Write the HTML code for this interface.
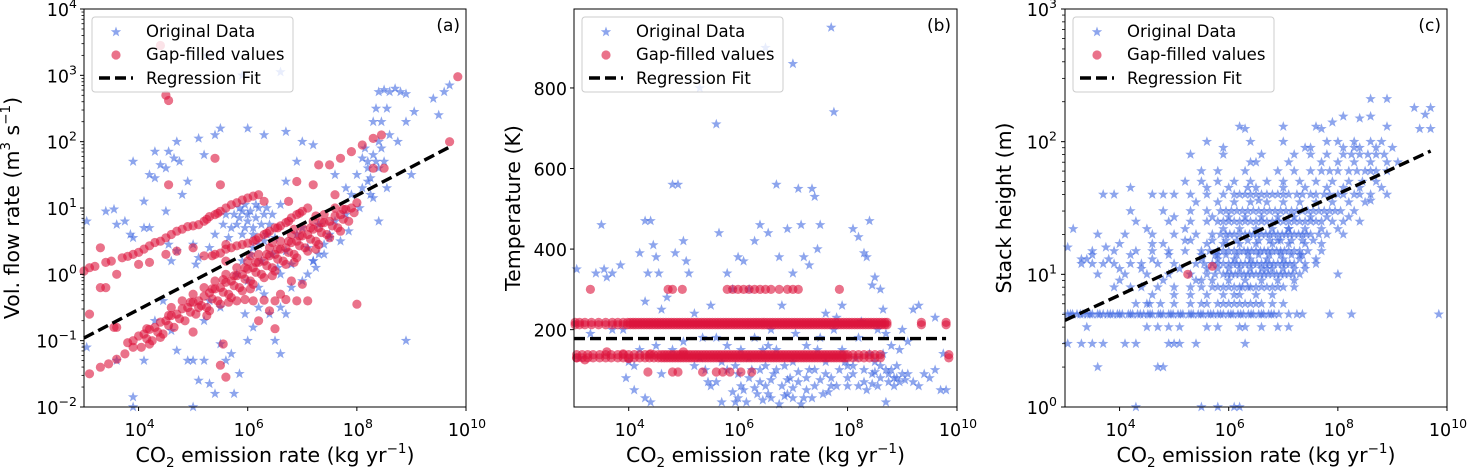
<!DOCTYPE html>
<html><head><meta charset="utf-8"><style>
html,body{margin:0;padding:0;background:#fff}
svg{display:block;font-family:"DejaVu Sans","Liberation Sans",sans-serif}
</style></head><body>
<svg id="fig" width="1468" height="467" viewBox="0 0 1468 467">
<defs><path id="star" d="M0,-5.5 L1.3,-1.8 L5.2,-1.7 L2.1,0.7 L3.2,4.4 L0,2.2 L-3.2,4.4 L-2.1,0.7 L-5.2,-1.7 L-1.3,-1.8 Z"/></defs>
</svg>
<script>
// ---------- DATA (x as log10 emission) ----------
const aStars=[[3.05,0.8],[3.4,0.95],[3.55,0.98],[3.6,0.75],[3.75,0.8],[3.85,0.6],[3.9,0.55],[4.1,0.7],[4.2,0.7],[4.3,1.85],[4.4,1.65],[4.5,1.6],[4.55,1.85],[4.65,1.75],[4.3,1.45],[4.5,0.95],[4.55,0.45],[4.6,0.2],[4.7,0.35],[4.9,1.4],[5.2,1.8],[5.1,2.05],[4.75,1.7],[4.8,1.2],[5.0,0.45],[5.05,0.15],[5.1,0.25],[5.3,0.4],[5.4,0.6],[5.55,0.75],[5.4,2.1],[5.6,0.9],[5.75,0.9],[5.85,0.85],[5.9,0.95],[5.95,0.7],[6.0,0.8],[6.1,0.6],[6.2,0.45],[6.05,0.3],[5.9,0.2],[6.3,0.9],[6.4,0.75],[6.5,0.55],[6.6,1.05],[6.7,0.35],[6.8,0.15],[6.9,0.6],[7.0,0.7],[7.1,0.4],[7.2,0.2],[7.3,0.3],[7.4,0.45],[7.5,0.6],[7.6,0.8],[7.7,0.5],[7.8,0.9],[7.9,1.2],[8.0,1.5],[8.1,1.75],[8.2,1.6],[8.15,1.9],[8.3,2.3],[8.35,2.5],[8.4,2.75],[8.5,2.78],[8.6,2.75],[8.7,2.8],[8.8,2.75],[8.9,2.72],[8.45,2.3],[8.55,2.5],[8.6,2.1],[8.75,2.0],[8.9,2.3],[9.05,2.45],[9.4,2.65],[9.6,2.75],[9.7,2.85],[9.5,2.4],[8.5,1.7],[8.25,1.45],[8.4,0.8],[8.9,-1.0],[9.0,1.5],[3.05,-1.1],[3.6,-1.3],[3.9,-1.85],[4.1,-1.3],[4.3,-0.7],[4.45,-0.4],[4.6,-0.85],[4.7,-1.15],[4.9,-1.3],[5.0,-1.3],[5.1,-1.6],[5.2,-1.3],[5.3,-1.65],[5.4,-1.8],[5.5,-1.05],[5.6,-1.3],[5.7,-1.2],[5.75,-1.8],[5.85,-1.5],[6.0,-1.0],[6.1,-0.8],[6.2,-0.5],[6.3,-0.3],[6.4,-0.6],[6.5,-1.0],[6.6,-1.2],[6.7,-0.6],[5.3,-0.4],[5.5,-0.5],[5.2,-0.7],[6.0,-0.1],[5.8,0.0],[6.6,0.0],[7.0,-0.1],[7.2,0.2],[7.5,0.55],[3.9,-2.0],[5.0,-2.0],[5.25,3.3],[5.9,3.0],[6.6,3.05],[4.7,2.0],[6.0,2.2],[6.3,2.1],[6.7,2.15],[7.0,2.0],[7.2,1.95],[7.6,1.5],[7.8,1.3],[6.9,1.7],[6.7,1.4],[5.5,2.2],[4.2,1.5],[4.1,1.1],[3.9,1.7],[6.2,1.0],[6.35,0.6],[6.15,0.85],[6.45,0.3],[6.55,0.1],[6.25,0.2],[5.65,0.55],[7.3,0.75],[7.85,0.65],[8.05,1.0],[8.3,1.15],[6.05,0.95],[5.95,1.05],[6.1,0.7],[6.25,0.75],[5.8,0.75],[6.35,1.0],[8.2,1.4],[8.35,1.7],[8.1,1.3],[8.45,1.9],
[5.85,1.0],[6.0,0.9],[6.15,1.05],[5.9,0.6],[6.1,0.4],[6.3,0.5],[5.7,0.7],[6.45,0.9],[8.2,1.7],[8.3,1.8],[8.4,1.6],[8.25,1.2],[8.4,2.0],[8.55,1.3],[7.1,0.0],[7.25,0.1],[7.4,0.3],[6.8,-0.2],[6.6,-0.5],[6.2,-0.2],[5.95,-0.6]];
const aGaps=[[3.0,0.05],[3.1,0.1],[3.2,0.12],[3.5,0.2],[3.7,0.25],[3.9,0.3],[4.1,0.38],[4.3,0.48],[4.5,0.55],[4.7,0.65],[4.9,0.72],[5.1,0.75],[5.3,0.87],[5.5,0.95],[5.7,1.05],[5.9,1.12],[6.1,1.18],[3.3,-0.2],[3.6,0.0],[4.0,0.15],[4.2,0.18],[4.5,0.3],[4.7,0.35],[5.0,0.4],[5.2,0.28],[5.4,0.3],[5.6,0.38],[5.9,0.45],[6.1,0.5],[6.3,0.6],[6.5,0.7],[6.7,0.78],[6.9,0.9],[7.1,1.0],[3.1,-1.5],[3.3,-1.4],[3.45,-1.35],[3.6,-1.28],[3.75,-1.2],[5.8,-0.4],[5.95,-0.38],[6.1,-0.4],[6.3,-0.39],[6.5,-0.4],[6.7,-0.38],[6.9,-0.4],[7.1,-0.4],[7.0,-0.15],[6.8,-0.1],[6.6,-0.3],[7.5,1.65],[7.7,1.75],[7.9,1.85],[8.1,1.95],[8.3,2.05],[8.45,2.1],[8.3,1.6],[8.5,1.6],[4.4,3.45],[4.5,2.7],[4.55,2.62],[5.4,1.75],[5.5,1.35],[6.3,1.1],[6.9,1.4],[7.3,1.65],[7.6,1.2],[5.6,0.45],[8.0,-0.45],[9.7,2.0],[9.85,2.98],[5.5,-1.37],[5.6,-1.55],[5.0,-0.87],[6.5,-0.82],[3.3,0.4],[3.1,-0.6],[3.6,-0.8],[5.55,-1.05],[5.1,-0.5],[6.2,-0.7],[6.4,-0.55],[3.4,-0.2],[4.55,1.35],[5.6,0.2],[6.75,1.1],[7.2,1.35],[3.55,-0.8],
[3.4,0.18],[3.8,0.27],[4.0,0.33],[4.2,0.43],[4.4,0.5],[4.6,0.6],[4.8,0.68],[5.0,0.73],[5.2,0.8],[5.4,0.9],[5.6,1.0],[5.8,1.08],[6.0,1.15],[6.2,1.2],[5.25,0.83],[5.45,0.92],[5.35,0.28],[5.5,0.32],[5.7,0.4],[5.8,0.43],[6.0,0.47],[6.2,0.55],[6.4,0.65],[6.6,0.73],[6.8,0.85],[7.0,0.95],[6.15,0.52],[6.35,0.62],[6.55,0.7],[6.75,0.8],[6.95,0.92]];
const aMain=[[3.8,-1.03],[3.9,-1.0],[4.0,-0.93],[4.1,-0.9],[4.2,-0.83],[4.3,-0.8],[4.4,-0.72],[4.5,-0.7],[4.6,-0.62],[4.7,-0.6],[4.8,-0.52],[4.9,-0.5],[5.0,-0.42],[5.1,-0.4],[5.2,-0.33],[5.3,-0.28],[5.4,-0.22],[5.5,-0.2],[5.6,-0.12],[5.7,-0.1],[5.8,-0.02],[5.9,0.0],[6.0,0.08],[6.1,0.1],[6.2,0.18],[6.3,0.2],[6.4,0.28],[6.5,0.3],[6.6,0.38],[6.7,0.4],[6.8,0.48],[6.9,0.5],[7.0,0.58],[7.1,0.6],[7.2,0.68],[7.3,0.7],[7.4,0.78],[7.5,0.8],[7.6,0.88],[7.7,0.9],[7.8,0.98],[7.9,1.0],[8.0,1.08],
[4.05,-1.1],[4.25,-1.0],[4.45,-0.9],[4.65,-0.8],[4.85,-0.7],[5.05,-0.6],[5.25,-0.5],[5.45,-0.4],[5.65,-0.3],[5.85,-0.2],[6.05,-0.1],[6.25,0.0],[6.45,0.1],[6.65,0.2],[6.85,0.3],[7.05,0.4],[7.25,0.5],[7.45,0.6],[7.65,0.7],[7.85,0.8],
[4.15,-0.82],[4.55,-0.62],[4.95,-0.42],[5.35,-0.22],[5.75,-0.02],[6.15,0.18],[6.55,0.38],[6.95,0.58],[7.35,0.78],[7.75,0.98],[5.55,-0.08],[5.95,0.1],[6.35,0.3],[6.75,0.5],[7.15,0.7],
[3.9,-1.1],[4.15,-0.97],[4.35,-0.87],[4.55,-0.77],[4.75,-0.67],[4.95,-0.57],[5.15,-0.47],[5.35,-0.37],[5.55,-0.27],[5.75,-0.17],[5.95,-0.07],[6.15,0.03],[6.35,0.13],[6.55,0.23],[6.75,0.33],[6.95,0.43],[7.15,0.53],[7.35,0.63],[7.55,0.73],[7.75,0.83],[7.95,0.93],
[5.0,-0.3],[5.2,-0.2],[5.4,-0.1],[5.6,0.0],[5.8,0.1],[6.0,0.2],[6.2,0.3],[6.4,0.4],[6.6,0.5],[6.8,0.6],[7.0,0.7],[7.2,0.8],[7.4,0.9],[7.6,1.0],[5.3,-0.55],[5.5,-0.45],[5.7,-0.35],[5.9,-0.25],[6.1,-0.15],[6.3,-0.05],[6.5,0.05],[6.7,0.15],[6.9,0.25],[7.1,0.35],[7.3,0.45],[7.5,0.55],[7.7,0.65],[4.6,-0.5],[4.8,-0.4],[4.4,-0.95],[4.2,-1.05],[6.05,0.28],[6.45,0.48],[6.85,0.68],[7.25,0.88],[5.25,-0.62],[5.65,-0.42],[6.05,-0.22],[6.45,-0.02],[6.85,0.18],[7.25,0.38]];
const aFit=[[3.0,-0.96],[9.7,1.92]];

const bStars=[[3.05,350],[3.1,130],[3.4,340],[3.5,460],[3.55,350],[3.6,330],[3.7,340],[3.85,360],[3.9,200],[3.95,80],[4.0,120],[4.1,110],[4.2,390],[4.3,470],[4.4,470],[4.3,270],[4.35,340],[4.45,410],[4.5,380],[4.55,340],[4.6,250],[4.6,90],[4.7,280],[4.8,560],[4.9,560],[4.85,390],[5.0,420],[5.05,370],[5.1,340],[5.2,240],[5.3,800],[5.5,60],[5.5,260],[5.6,710],[5.65,440],[5.7,20],[5.8,340],[5.9,300],[6.0,380],[5.95,20],[6.1,370],[6.2,300],[6.3,420],[6.4,460],[6.5,900],[6.55,440],[6.6,30],[6.7,560],[6.75,380],[6.8,260],[6.9,450],[7.0,860],[7.0,340],[7.1,550],[7.15,460],[7.2,380],[7.3,360],[7.35,550],[7.4,530],[7.45,400],[7.5,460],[7.6,240],[7.7,950],[7.75,740],[7.8,230],[7.9,260],[8.0,60],[8.1,450],[8.2,430],[8.3,390],[8.35,380],[8.4,470],[8.45,310],[8.5,330],[8.6,300],[8.7,20],[8.8,100],[9.0,200],[9.1,170],[9.2,250],[9.3,260],[9.4,90],[9.5,80],[9.6,100],[9.7,50],[9.8,50],[9.75,140],[9.6,230],[9.1,90],[9.2,70],[9.3,60],[8.95,150],[8.8,160],[8.7,190],[8.9,110],[4.8,150],[5.0,170],[5.2,110],[5.4,100],[5.6,180],[5.8,160],[6.0,90],[6.1,50],[6.2,130],[6.3,180],[6.4,70],[6.5,110],[6.6,200],[6.7,150],[6.8,60],[6.9,40],[7.0,120],[7.05,190],[7.1,70],[7.2,30],[7.25,160],[7.3,100],[7.4,60],[7.5,180],[7.55,40],[7.6,120],[7.7,80],[7.8,60],[7.9,150],[8.0,110],[8.1,90],[8.2,180],[8.3,70],[8.4,140],[8.5,120],[8.6,80],[6.15,20],[6.45,25],[6.75,15],[7.15,15],[5.9,45],[6.35,40],[7.35,30],[7.65,45],[5.3,130],[5.7,120],[6.05,150],[6.55,160],[6.85,110],[7.45,150],[7.75,200],[8.25,220],[8.55,200],[8.65,250],[5.35,180],[4.5,160],[4.2,150],[3.7,200],[3.3,190],[4.1,50],[4.3,30],[4.4,20],[6.25,100],[6.65,90],[6.95,80],[7.25,50],[5.95,110],[6.45,150],[7.85,100],[8.15,130],[8.75,70],[8.85,80],
[6.05,60],[6.2,80],[6.3,55],[6.5,60],[6.6,75],[6.7,100],[6.85,35],[7.0,55],[7.1,95],[7.25,80],[7.4,100],[7.5,75],[7.6,90],[7.7,60],[5.8,100],[5.6,70],[6.4,100],[6.9,75],[8.0,80],[8.3,100],[8.45,90],[8.55,60],[8.7,100],[8.9,80],[9.0,90],[5.45,70],[6.55,40],[7.0,30],[6.0,30],
[8.35,50],[8.45,65],[8.6,110],[8.75,90],[8.85,60],[8.95,70],[9.05,75],[8.5,95],[8.2,60],[8.1,110],[7.95,120],[8.65,140]];
const bUpperX=[3.02,3.1,3.2,3.32,3.45,3.58,3.7,3.8,3.9,3.98,4.03,4.08,4.13,4.18,4.23,4.28,4.33,4.38,4.43,4.48,4.53,4.58,4.63,4.68,4.73,4.78,4.83,4.88,4.93,4.98,5.03,5.08,5.13,5.18,5.23,5.28,5.33,5.38,5.43,5.48,5.53,5.58,5.63,5.68,5.73,5.78,5.83,5.88,5.93,5.98,6.03,6.08,6.13,6.18,6.23,6.28,6.33,6.38,6.43,6.48,6.53,6.58,6.63,6.68,6.73,6.78,6.83,6.88,6.93,6.98,7.03,7.08,7.13,7.18,7.23,7.28,7.33,7.38,7.43,7.48,7.53,7.58,7.63,7.68,7.73,7.78,7.83,7.88,7.93,7.98,8.03,8.08,8.13,8.18,8.23,8.28,8.33,8.38,8.43,8.48,8.53,8.58,8.63,8.68,8.72,9.35,9.8];
const bLowerX=[3.05,3.15,3.25,3.35,3.47,3.58,3.68,3.8,3.9,4.0,4.1,4.2,4.3,4.38,4.46,4.54,4.6,4.65,4.7,4.75,4.8,4.85,4.9,4.95,5.0,5.05,5.1,5.15,5.2,5.25,5.3,5.35,5.4,5.45,5.5,5.55,5.6,5.65,5.7,5.75,5.8,5.85,5.9,5.95,6.0,6.05,6.1,6.15,6.2,6.25,6.3,6.35,6.4,6.45,6.5,6.55,6.6,6.65,6.7,6.75,6.8,6.85,6.9,6.95,7.0,7.05,7.1,7.15,7.2,7.25,7.3,7.35,7.4,7.45,7.5,7.55,7.6,7.65,7.7,7.75,7.8,7.85,7.9,7.95,8.0,8.1,8.2,8.3,8.4,8.5,8.6,9.85];
const bUpperYs=[212,218];
const bLowerYs=[130,138];
const bGapsExtra=[[3.3,300],[4.72,300],[4.8,300],[4.98,300],[5.8,300],[5.9,300],[6.0,300],[6.1,300],[6.2,300],[6.3,300],[6.4,300],[6.5,300],[6.6,300],[6.75,300],[6.9,300],[7.0,300],[7.1,300],[7.85,300],[4.35,95],[4.8,95],[4.9,95],[5.35,95],[5.6,95],[5.72,95],[5.85,95],[6.05,95],[6.25,95],[3.2,125],[3.05,130],[3.9,140],[4.4,140],[5.0,145],[3.6,145],[4.0,128]];
const bFitY=178;

const cHeights=[5,6,8,10,12,15,20,25,30,40,50,60,80,100,4,3,2,1,7,9,11,13,17,22,27,35,45,70,90,5,12,15,20,10,14,18,25,30,40,8,6];
const cRows=[
[3.05,3.14,3.22,3.33,3.41,3.5,3.6,3.7,3.78,3.88,3.96,4.05,4.16,4.24,4.33,4.44,4.52,4.6,4.71,4.8,4.9,4.98,5.07,5.16,5.27,5.35,5.44,5.53,5.62,5.72,5.8,5.9,5.99,6.08,6.17,6.27,6.36,6.45,6.55,6.64,6.73,6.83,6.92,7.1,7.25,7.35,7.85,8.25,9.85],
[4.3,4.5,4.55,4.75,5.0,5.3,5.5,5.6,5.8,6.0,6.1,6.3,6.5,6.8,7.0],
[3.9,4.2,4.4,4.7,5.0,5.3,5.5,5.7,5.9,6.1,6.25,6.4,6.6,6.8,7.0,7.2],
[3.6,4.1,4.5,4.9,5.3,5.6,5.9,6.05,6.2,6.35,6.5,6.65,6.8,6.95,7.1,7.3,8.0],
[3.3,3.5,3.7,3.9,4.2,4.4,4.7,5.0,5.4,5.7,5.9,6.0,6.15,6.3,6.45,6.6,6.75,6.9,7.05,7.2,7.4,7.6],
[3.5,3.9,4.3,4.6,4.9,5.2,5.5,5.8,6.0,6.2,6.35,6.5,6.65,6.8,6.95,7.1,7.3,7.45,7.7],
[3.6,4.1,4.6,5.0,5.4,5.7,5.95,6.1,6.3,6.45,6.6,6.75,6.9,7.05,7.2,7.35,7.5,7.65,7.8,8.1],
[4.3,4.9,5.3,5.6,5.9,6.1,6.3,6.5,6.7,6.9,7.1,7.3,7.5,7.7,7.9,8.1,8.4],
[4.2,4.8,5.3,5.6,5.85,6.05,6.25,6.45,6.65,6.85,7.05,7.25,7.45,7.65,7.85,8.05,8.3],
[3.7,3.9,4.6,4.8,5.3,5.6,5.9,6.2,6.4,6.6,6.8,7.0,7.25,7.5,7.75,8.0,8.3,8.6,8.9],
[5.2,5.5,5.8,6.1,6.4,6.7,7.0,7.3,7.6,7.9,8.2,8.45,8.7],
[5.5,5.8,6.3,6.9,7.2,7.5,7.7,7.85,8.0,8.2,8.35,8.5,8.7,8.9],
[5.3,5.9,6.6,7.2,7.5,7.8,8.1,8.25,8.4,8.55,8.7,8.85],
[5.6,6.4,7.0,7.8,8.0,8.3,8.6,8.8],
[3.4,4.5,4.7,4.9,5.1,5.6,5.8,6.2,6.3,6.6,6.9,7.1],
[3.05,3.3,3.5,3.7,4.1,4.3,4.9,5.0,5.1,5.4,6.3],
[3.6,4.7,4.8],
[4.3,5.5,5.8,6.1,6.2],
[4.6,5.0,5.3,5.6,5.9,6.2,6.5,6.8],
[4.0,4.8,5.4,5.7,6.0,6.3,6.6,6.9,7.2],
[4.4,5.1,5.6,5.8,6.0,6.2,6.4,6.6,6.8,7.0,7.2,7.4],
[3.4,3.8,4.6,5.5,5.8,6.1,6.4,6.7,7.0,7.3,7.6],
[4.0,4.8,5.6,5.9,6.2,6.5,6.8,7.1,7.4,7.7],
[4.5,5.2,5.9,6.2,6.5,6.8,7.1,7.4,7.7,8.0],
[5.0,5.7,6.0,6.3,6.6,6.9,7.2,7.5,7.8,8.2],
[5.4,5.8,6.1,6.4,6.7,7.0,7.3,7.6,7.9,8.2,8.5],
[5.6,6.0,6.5,7.0,7.4,7.8,8.1,8.4,8.8],
[6.5,7.1,7.7,8.0,8.3,8.6,8.9,9.1],
[7.4,8.1,8.4,8.7,9.0],
[3.1,3.28,3.46,3.64,3.83,4.0,4.2,4.38,4.56,4.75,4.94,5.12,5.31,5.49,5.67,5.85,6.04,6.22,6.41,6.6,6.78],
[5.55,5.8,6.08,6.22,6.38,6.52,6.68,6.82,6.98,7.12],
[5.65,5.9,6.1,6.28,6.42,6.58,6.72,6.88,7.02,7.2],
[5.85,6.02,6.2,6.38,6.52,6.68,6.82,6.98,7.12,7.28,7.42],
[5.75,5.98,6.12,6.28,6.42,6.58,6.72,6.88,7.02,7.18],
[4.2,4.9,5.5,5.75,5.95,6.15,6.35,6.55,6.75,6.95,7.15,7.35],
[5.3,5.7,5.95,6.15,6.35,6.55,6.75,6.95,7.15,7.35,7.55],
[5.8,6.0,6.2,6.4,6.6,6.8,7.0,7.2,7.4,7.6],
[5.95,6.15,6.35,6.55,6.75,6.95,7.15,7.35,7.55,7.75,7.95],
[6.1,6.3,6.5,6.7,6.9,7.1,7.35,7.6,7.85,8.1,8.4],
[5.8,6.0,6.2,6.35,6.5,6.7,6.9],
[5.9,6.2,6.4,6.6]];
const cStarsExtra=[[6.2,130],[6.3,125],[7.0,130],[7.7,125],[8.1,155],[8.4,150],[8.6,155],[8.9,130],[8.6,210],[8.9,210],[9.4,180],[9.6,160],[9.7,180],[9.5,125],[9.7,125],[7.6,130],[7.9,140],[3.05,16],[3.15,22],[3.3,13],[3.5,14],[3.75,16],[4.2,45],[5.0,40],[5.9,90],[6.4,70],[7.5,90],[8.3,90],[6.7,11],[6.9,18],[7.3,14],[7.1,22],[5.2,18],[5.8,14],[6.55,36],[6.35,45],[8.6,36],[8.6,60],[4.6,17],[4.0,11],[5.5,9],[6.1,7]];
const cGaps=[[5.25,10],[5.7,11.5]];
const cFit=[[3.0,4.5],[9.7,85]];

const xTickExp=[4,6,8,10];
const aYTickExp=[-2,-1,0,1,2,3,4];
const bYTicks=[200,400,600,800];
const cYTickExp=[0,1,2,3];

// ---------- LAYOUT ----------
const T=9,B=407;
const FS=17.5, SUP=12.5, LFS=20.5;
const panels={a:{L:84,R:466},b:{L:574,R:957},c:{L:1065,R:1447}};
const NS="http://www.w3.org/2000/svg";
const svg=document.getElementById('fig');
function mk(tag,attrs,parent){const e=document.createElementNS(NS,tag);for(const k in attrs)e.setAttribute(k,attrs[k]);(parent||svg).appendChild(e);return e;}
function xs(p,lx){const P=panels[p];return P.L+(lx-3)/7*(P.R-P.L);}
const ya=ly=>B-(ly+2)/6*(B-T);
const yb=v=>B-(v-8)/(996-8)*(B-T);
const yc=v=>B-Math.log10(v)/3*(B-T);

function star(g,x,y){const u=mk('use',{href:'#star',x:x.toFixed(1),y:y.toFixed(1),fill:'#4169e1','fill-opacity':0.6},g);

}
function dot(g,x,y){const c=mk('circle',{cx:x.toFixed(1),cy:y.toFixed(1),r:4.6,fill:'#dc143c','fill-opacity':0.6},g);

}
function fit(g,x1,y1,x2,y2){const l=mk('line',{x1,y1,x2,y2,stroke:'#000','stroke-width':3.4,'stroke-dasharray':'11,5'},g);

}

function powLabel(g,x,y,e,anchor){const t=mk('text',{x,y,'font-size':FS,'text-anchor':anchor,fill:'#000'},g);


const s1=mk('tspan',{},t);s1.textContent='10';const s2=mk('tspan',{dy:-8,'font-size':SUP},t);s2.textContent=(e<0?'\u2212'+(-e):''+e);}

function frame(id){
  const g=mk('g',{});
  
  
  return g;
}
function axes(p,g,ylabel,letter,ylx){
  const P=panels[p];
  const r=mk('rect',{x:P.L,y:T,width:P.R-P.L,height:B-T,fill:'none',stroke:'#000','stroke-width':1},g);
  
  
  xTickExp.forEach(e=>{const x=xs(p,e);mk('line',{x1:x,y1:B,x2:x,y2:B+4,stroke:'#000'},g);powLabel(g,x+1,B+29,e,'middle');});
  const xl=mk('text',{x:(P.L+P.R)/2,y:B+55,'font-size':LFS,'text-anchor':'middle'},g);
  
  
  xl.innerHTML='CO<tspan dy="5" font-size="'+(SUP+1)+'">2</tspan><tspan dy="-5"> emission rate (kg yr</tspan><tspan dy="-9" font-size="'+(SUP+1)+'">\u22121</tspan><tspan dy="9">)</tspan>';
  const yl=mk('text',{x:0,y:0,'font-size':LFS,'text-anchor':'middle',transform:`translate(${ylx},${(T+B)/2}) rotate(-90)`},g);
  
  
  yl.innerHTML=ylabel;
  const lt=mk('text',{x:P.R-6,y:T+22,'font-size':17,'text-anchor':'end'},g);
  
  
  lt.textContent=letter;
  const lg=mk('g',{},g);
  
  
  const L=P.L+8;
  mk('rect',{x:L,y:17,width:201,height:75,rx:3,fill:'#fff','fill-opacity':0.8,stroke:'#ccc'},lg);
  mk('use',{href:'#star',x:L+24,y:32,fill:'#4169e1','fill-opacity':0.6},lg);
  mk('circle',{cx:L+24,cy:55,r:4.6,fill:'#dc143c','fill-opacity':0.6},lg);
  mk('line',{x1:L+7,y1:78,x2:L+41,y2:78,stroke:'#000','stroke-width':3.4,'stroke-dasharray':'11,5'},lg);
  [['Original Data',37],['Gap-filled values',60],['Regression Fit',84]].forEach(([s,y])=>{const t=mk('text',{x:L+54,y,'font-size':16.5},lg);
  
  
  t.textContent=s;});
}

// Panel a
const ga=frame('a');
aStars.forEach(d=>star(ga,xs('a',d[0]),ya(d[1])));
aGaps.forEach(d=>dot(ga,xs('a',d[0]),ya(d[1])));
aMain.forEach(d=>dot(ga,xs('a',d[0]),ya(d[1])));
fit(ga,xs('a',aFit[0][0]),ya(aFit[0][1]),xs('a',aFit[1][0]),ya(aFit[1][1]));
aYTickExp.forEach(e=>{const y=ya(e);mk('line',{x1:84,y1:y,x2:80,y2:y,stroke:'#000'},ga);powLabel(ga,77,y+7,e,'end');
 if(e<4)for(let m=2;m<10;m++){const yy=ya(e+Math.log10(m));mk('line',{x1:84,y1:yy,x2:81.5,y2:yy,stroke:'#000','stroke-width':0.8},ga);}});
axes('a',ga,'Vol. flow rate (m<tspan dy="-9" font-size="'+(SUP+1)+'">3</tspan><tspan dy="9"> s</tspan><tspan dy="-9" font-size="'+(SUP+1)+'">\u22121</tspan><tspan dy="9">)</tspan>','(a)',19);

// Panel b
const gb=frame('b');
bStars.forEach(d=>star(gb,xs('b',d[0]),yb(d[1])));
bUpperYs.forEach(v=>bUpperX.forEach(x=>dot(gb,xs('b',x),yb(v))));
bLowerYs.forEach(v=>bLowerX.forEach(x=>dot(gb,xs('b',x),yb(v))));
bGapsExtra.forEach(d=>dot(gb,xs('b',d[0]),yb(d[1])));
fit(gb,xs('b',3),yb(bFitY),xs('b',9.8),yb(bFitY));
bYTicks.forEach(v=>{const y=yb(v);mk('line',{x1:574,y1:y,x2:570,y2:y,stroke:'#000'},gb);const t=mk('text',{x:567,y:y+7,'font-size':FS,'text-anchor':'end'},gb);


t.textContent=v;});
axes('b',gb,'Temperature (K)','(b)',520);

// Panel c
const gc=frame('c');
cRows.forEach((row,i)=>row.forEach(x=>star(gc,xs('c',x),yc(cHeights[i]))));
cStarsExtra.forEach(d=>star(gc,xs('c',d[0]),yc(d[1])));
cGaps.forEach(d=>dot(gc,xs('c',d[0]),yc(d[1])));
fit(gc,xs('c',cFit[0][0]),yc(cFit[0][1]),xs('c',cFit[1][0]),yc(cFit[1][1]));
cYTickExp.forEach(e=>{const y=yc(Math.pow(10,e));mk('line',{x1:1065,y1:y,x2:1061,y2:y,stroke:'#000'},gc);powLabel(gc,1057,y+7,e,'end');
 if(e<3)for(let m=2;m<10;m++){const yy=yc(m*Math.pow(10,e));mk('line',{x1:1065,y1:yy,x2:1062,y2:yy,stroke:'#000','stroke-width':0.8},gc);}});
axes('c',gc,'Stack height (m)','(c)',1011);
</script>
</body></html>
